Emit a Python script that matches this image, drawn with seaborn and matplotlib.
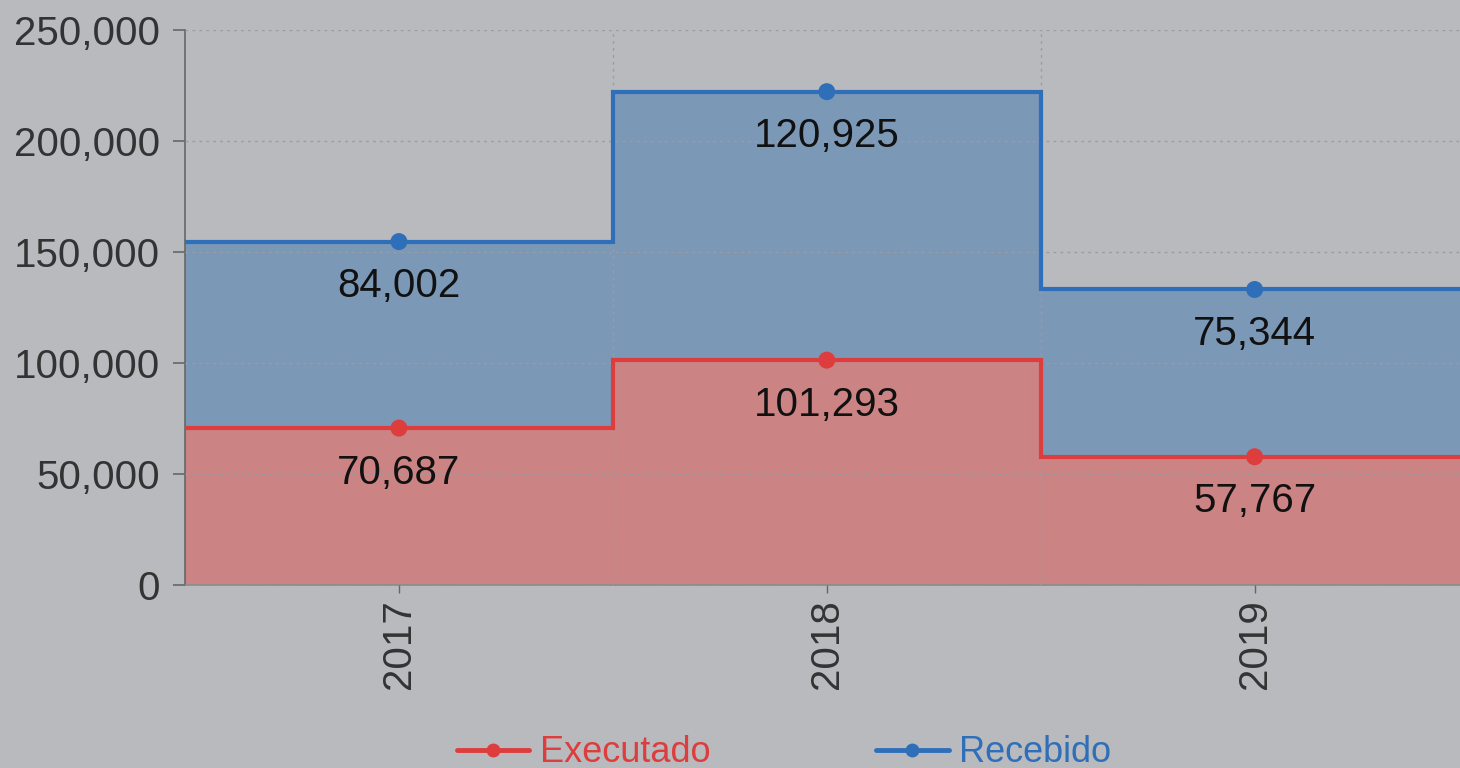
import numpy as np
import pandas as pd
import matplotlib
matplotlib.use("Agg")
import matplotlib.pyplot as plt
from matplotlib.lines import Line2D
from matplotlib.ticker import FuncFormatter, FixedLocator
import seaborn as sns

years = ["2017", "2018", "2019"]
executado = [70687, 101293, 57767]
recebido = [84002, 120925, 75344]
yticks = [0, 50000, 100000, 150000, 200000, 250000]

BG = "#b9babe"
RED_LINE = "#dd3d3d"
RED_FILL = "#cc8383"
BLUE_LINE = "#2f6fb9"
BLUE_FILL = "#7c98b7"

sns.set_theme(style="white")
plt.rcParams["font.family"] = ["Liberation Sans", "DejaVu Sans"]

fig = plt.figure(figsize=(14.6, 7.68), dpi=100, facecolor=BG)
ax = fig.add_axes([185 / 1460, (768 - 585) / 768, 1 - 185 / 1460, (585 - 30) / 768])
ax.set_facecolor(BG)

x = np.arange(len(years))
edges = np.arange(len(years) + 1) - 0.5
exe = np.array(executado)
total = exe + np.array(recebido)

# fills
ax.stairs(exe, edges, baseline=0, fill=True, color=RED_FILL, zorder=1)
ax.stairs(total, edges, baseline=exe, fill=True, color=BLUE_FILL, zorder=1)
# step lines
ax.stairs(exe, edges, baseline=None, color=RED_LINE, lw=3.0, zorder=3)
ax.stairs(total, edges, baseline=None, color=BLUE_LINE, lw=3.0, zorder=3)

df = pd.DataFrame({
    "x": np.concatenate([x, x]),
    "y": np.concatenate([exe, total]),
    "serie": ["Executado"] * len(x) + ["Recebido"] * len(x),
})
sns.scatterplot(data=df, x="x", y="y", hue="serie",
                palette={"Executado": RED_LINE, "Recebido": BLUE_LINE},
                s=150, edgecolor="none", legend=False, ax=ax, zorder=4)

for xi, e, t, r in zip(x, exe, total, recebido):
    ax.annotate(f"{e:,}", (xi, e), xytext=(0, -32), textcoords="offset points",
                ha="center", va="center", fontsize=29, color="#111111", zorder=5)
    ax.annotate(f"{r:,}", (xi, t), xytext=(0, -32), textcoords="offset points",
                ha="center", va="center", fontsize=29, color="#111111", zorder=5)

ax.set_xlim(-0.5, 2.48)
ax.set_ylim(0, 250000)
ax.set_yticks(yticks)
ax.yaxis.set_major_formatter(FuncFormatter(lambda v, p: f"{int(v):,}"))
ax.set_xticks(x)
ax.set_xticklabels(years, rotation=90)
ax.xaxis.set_minor_locator(FixedLocator(edges[1:-1]))

ax.tick_params(axis="y", which="major", length=9, width=1.2, color="#666666",
               labelsize=29, labelcolor="#333333", pad=9, left=True)
ax.tick_params(axis="x", which="major", length=6, width=1, color="#666666",
               labelsize=29, labelcolor="#333333", pad=4, bottom=True)
ax.tick_params(axis="x", which="minor", length=0)

ax.grid(False)
ax.set_axisbelow(False)
ax.yaxis.grid(True, color="#9c9ca0", linestyle=(0, (2, 3)), lw=1)
ax.xaxis.grid(True, which="minor", color="#9c9ca0", linestyle=(0, (2, 3)), lw=1)

for s in ["top", "right"]:
    ax.spines[s].set_visible(False)
ax.spines["left"].set_color("#666666")
ax.spines["left"].set_linewidth(1.2)
ax.spines["bottom"].set_color("#8a8a8a")
ax.spines["bottom"].set_linewidth(1.2)
ax.set_xlabel("")
ax.set_ylabel("")

handles = [
    Line2D([], [], color=RED_LINE, lw=3.5, marker="o", markersize=9),
    Line2D([], [], color=BLUE_LINE, lw=3.5, marker="o", markersize=9),
]
leg = fig.legend(handles, ["Executado", "Recebido"], loc="center",
                 bbox_to_anchor=(0.537, 0.02), ncol=2, frameon=False,
                 fontsize=26, handlelength=2.0, handletextpad=0.28,
                 columnspacing=4.6)
for txt, c in zip(leg.get_texts(), [RED_LINE, BLUE_LINE]):
    txt.set_color(c)

fig.savefig("out.png", dpi=100, facecolor=BG)
